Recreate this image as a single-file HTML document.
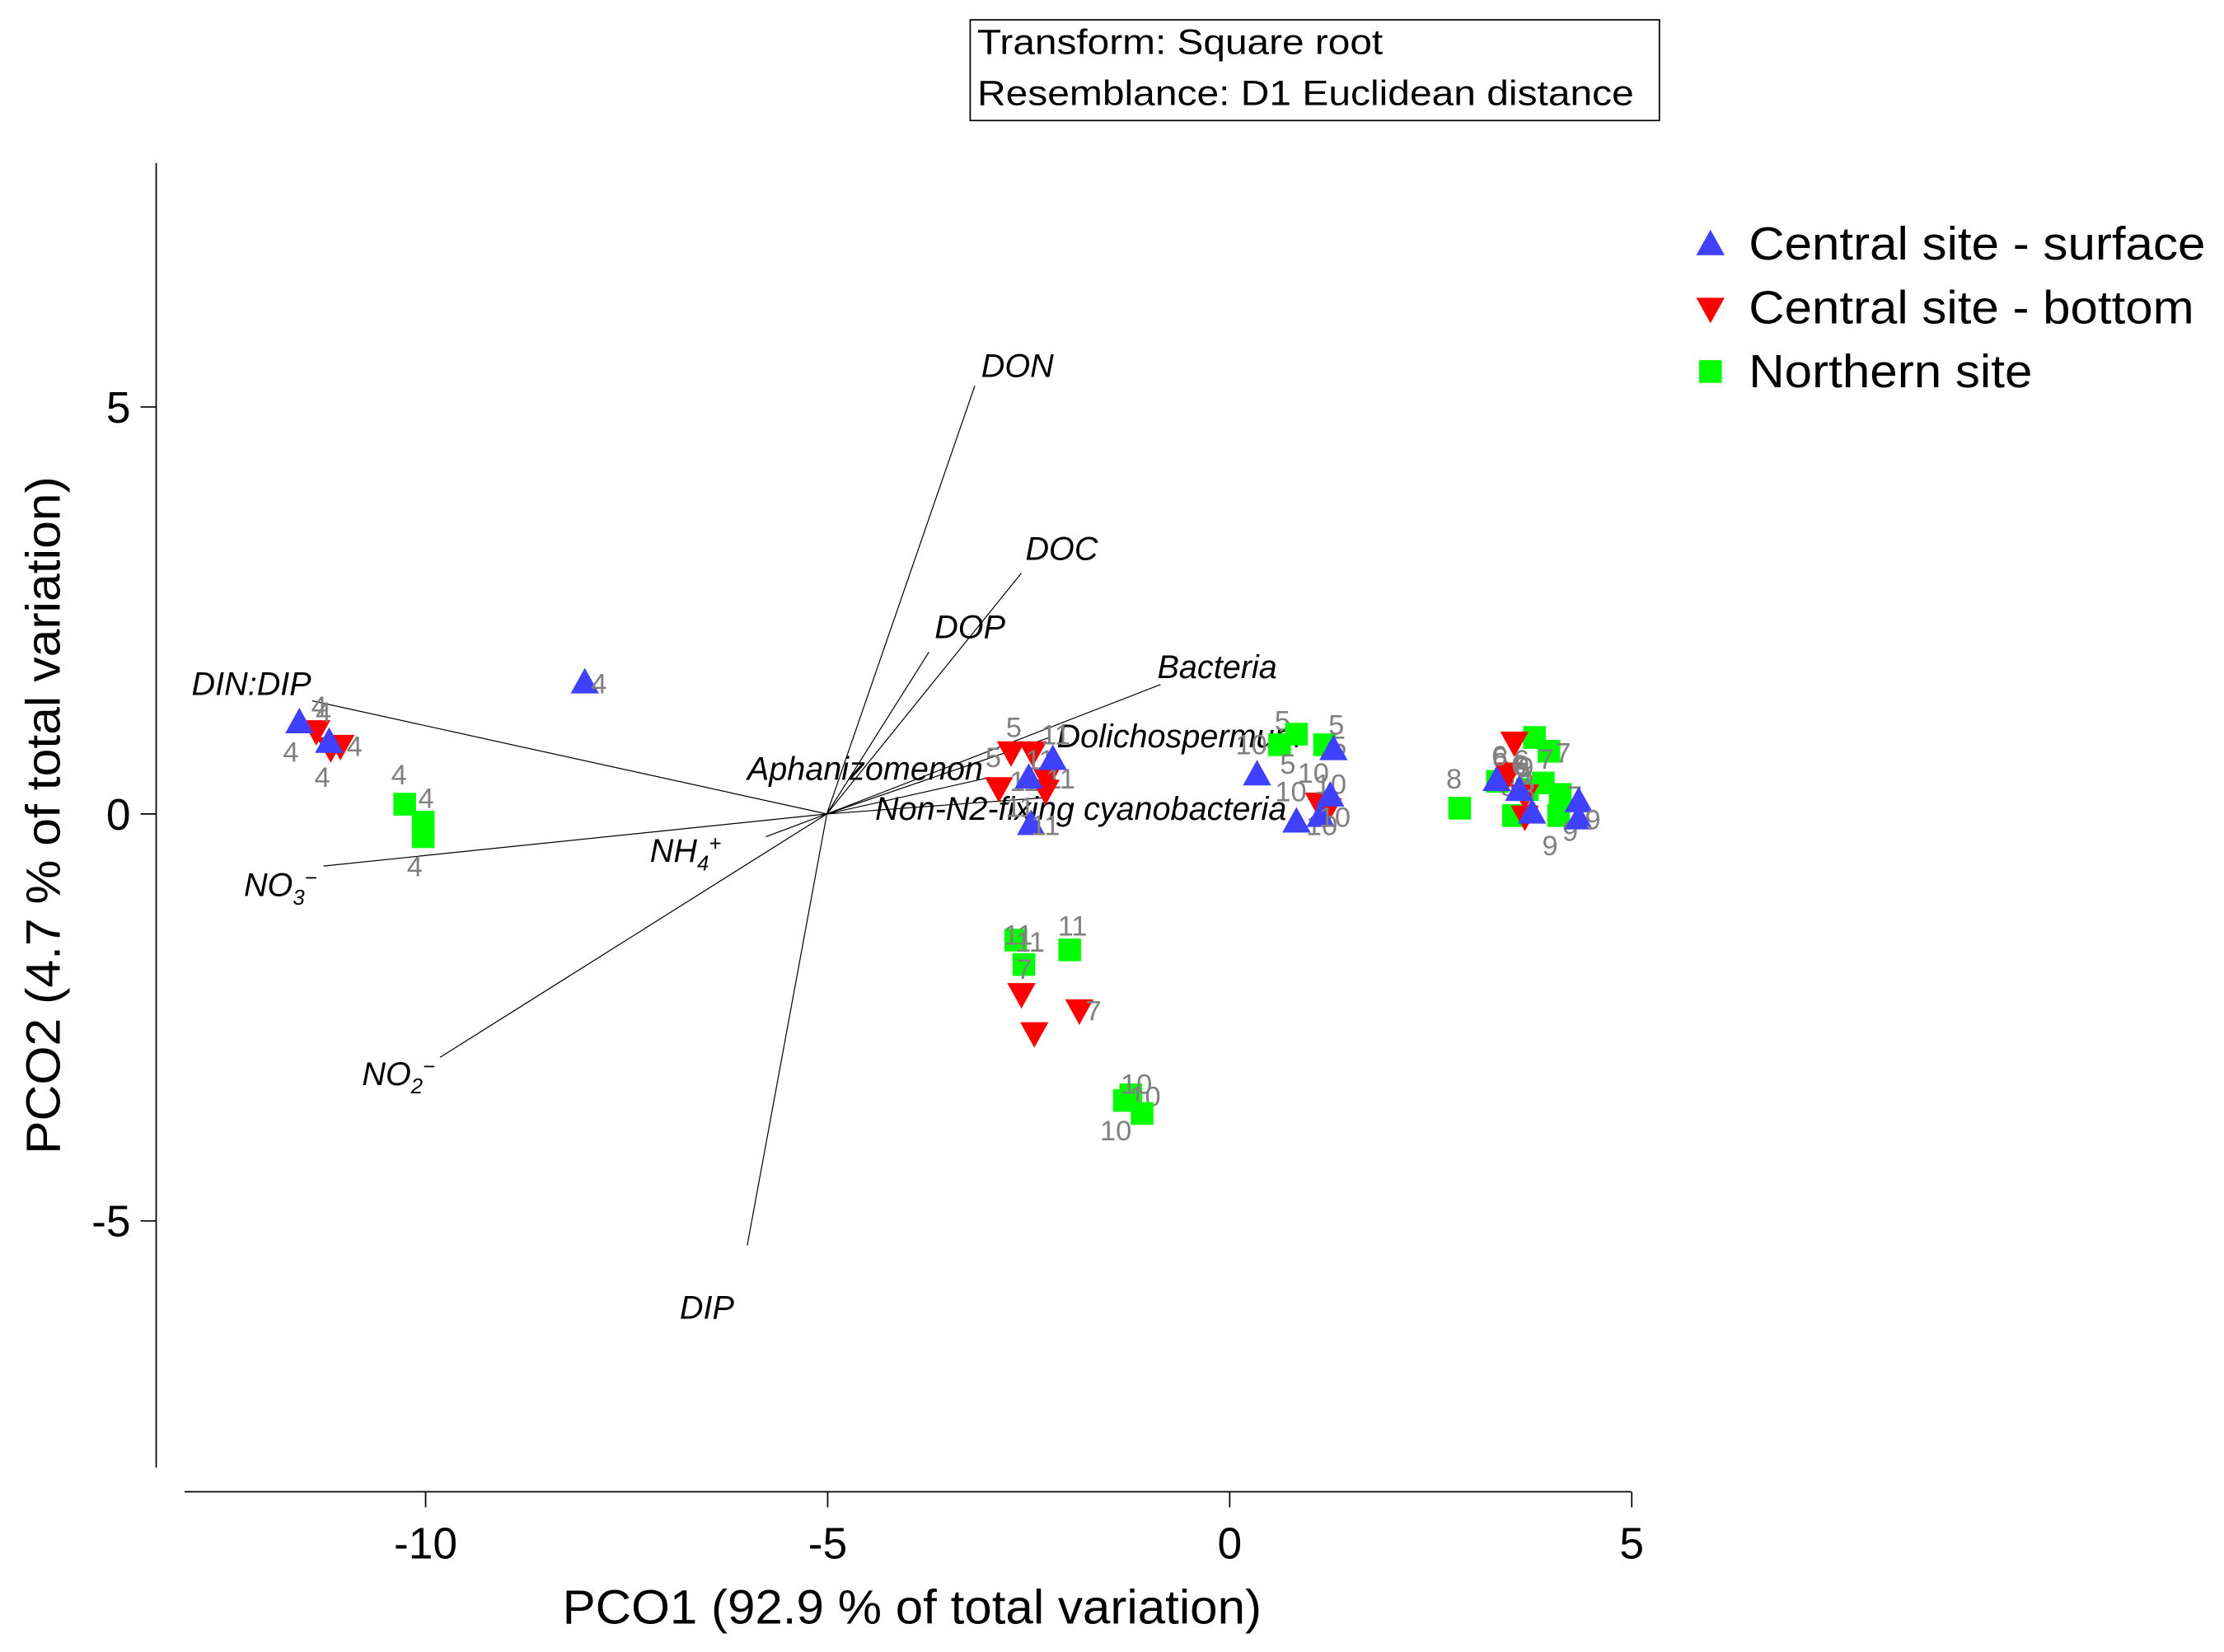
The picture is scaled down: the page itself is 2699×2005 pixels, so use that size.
<!DOCTYPE html>
<html><head><meta charset="utf-8"><style>
html,body{margin:0;padding:0;background:#fff;}
svg{display:block;font-family:"Liberation Sans",Arial,sans-serif;}
</style></head><body>
<svg id="chart" width="2699" height="2005" viewBox="0 0 1568 1165" xmlns="http://www.w3.org/2000/svg">
<rect width="1568" height="1165" fill="#fff"/>
<g>
<rect x="684" y="14" width="486" height="71" fill="#fff" stroke="#000" stroke-width="1"/>
<text x="689" y="38" font-size="25" textLength="286" lengthAdjust="spacingAndGlyphs">Transform: Square root</text>
<text x="689" y="74" font-size="25" textLength="463" lengthAdjust="spacingAndGlyphs">Resemblance: D1 Euclidean distance</text>
</g>
<g id="axes"></g>
<g id="vectors"></g>
<g id="points"></g>
<g>
<g><polygon points="1206,162 1196,180 1216,180" fill="#4040ff"/><text x="1233" y="183" font-size="33" textLength="322" lengthAdjust="spacingAndGlyphs">Central site - surface</text></g>
<g><polygon points="1196,210 1216,210 1206,228" fill="#ff0000"/><text x="1233" y="228" font-size="33" textLength="314" lengthAdjust="spacingAndGlyphs">Central site - bottom</text></g>
<g><rect x="1198" y="254" width="16" height="16" fill="#00ff00"/><text x="1233" y="273" font-size="33" textLength="200" lengthAdjust="spacingAndGlyphs">Northern site</text></g>
</g>
<text x="643" y="1145" font-size="34" text-anchor="middle" textLength="493" lengthAdjust="spacingAndGlyphs">PCO1 (92.9 % of total variation)</text>
<text transform="translate(42,575) rotate(-90)" font-size="34" text-anchor="middle" textLength="478" lengthAdjust="spacingAndGlyphs">PCO2 (4.7 % of total variation)</text>
</svg>
<script>
const xTicks=[-10,-5,0,5];
const yTicks=[5,0,-5];
const surfX=[-11.57,-8.02,-11.2,-2.2,-2.5,-2.47,0.34,1.29,1.25,1.13,0.83,3.32,4.34,4.34,3.76,3.6];
const surfY=[1.13,1.62,0.89,0.68,0.45,-0.12,0.49,0.8,0.23,-0.02,-0.09,0.42,0.16,-0.05,0.02,0.3];
const surfLab=["4","4","4","11","11","11","10","5","10","10","10","6","9","9","8","6"];
const botX=[-11.36,-11.18,-11.06,-2.87,-2.72,-2.45,-2.28,-2.29,-2.59,-2.43,-1.87,1.11,1.22,3.54,3.47,3.67,3.67];
const botY=[1.03,0.82,0.85,0.33,0.77,0.77,0.45,0.3,-2.2,-2.68,-2.4,0.14,0.07,0.89,0.51,0.24,-0.02];
const botLab=["4","4","4","5","5","11","11","11","7","","7","10","10","9","9","6","8"];
const norX=[-10.26,-10.03,-10.03,-2.66,-2.56,-1.99,-1.31,-1.23,-1.09,0.62,0.83,1.18,2.86,3.33,3.79,3.97,3.53,3.9,4.09,4.11,3.7];
const norY=[0.12,-0.1,-0.28,-1.55,-1.85,-1.67,-3.52,-3.45,-3.68,0.85,0.98,0.85,0.07,0.4,0.94,0.77,-0.02,0.38,-0.02,0.24,0.3];
const norLab=["4","4","4","11","11","11","10","10","10","5","5","5","8","8","9","7","8","7","9","7","6"];
const vecNames=["DON","DOC","DOP","Bacteria","Dolichospermum","Aphanizomenon","Non-N2-fixing cyanobacteria","NH4","DIN:DIP","NO3","NO2","DIP"];
const vecX=[-3.17,-2.59,-3.74,-0.86,-2.24,-2.98,-2.3,-5.77,-11.41,-11.27,-9.82,-6.0];
const vecY=[5.26,2.96,1.99,1.59,0.94,0.45,0.2,-0.28,1.39,-0.64,-2.99,-5.3];
const vecLabX=[-3.09,-2.54,-3.67,-0.9,-2.15,-6.0,-4.41,-7.21,-12.91,-12.26,-10.79,-6.84];
const vecLabY=[5.37,3.12,2.16,1.67,0.82,0.42,-0.07,-0.59,1.46,-1.01,-3.33,-6.2];

const NS="http://www.w3.org/2000/svg";
const X=v=>867+56.7*v, Y=v=>574-57.4*v;
function mk(tag,attrs,parent){const e=document.createElementNS(NS,tag);for(const k in attrs)e.setAttribute(k,attrs[k]);parent.appendChild(e);return e;}
const axes=document.getElementById('axes');
let l=mk('line',{x1:130,y1:1052,x2:1150,y2:1052,stroke:'#000','stroke-width':1},axes);


l=mk('line',{x1:110,y1:115,x2:110,y2:1035,stroke:'#000','stroke-width':1},axes);


xTicks.forEach(t=>{
 const g=mk('g',{},axes);
 
 
 mk('line',{x1:X(t),y1:1052,x2:X(t),y2:1063,stroke:'#000'},g);
 const tx=mk('text',{x:X(t),y:1099,'font-size':31,'text-anchor':'middle'},g);tx.textContent=t;
});
yTicks.forEach(t=>{
 const g=mk('g',{},axes);
 
 
 mk('line',{x1:99,y1:Y(t),x2:110,y2:Y(t),stroke:'#000'},g);
 const tx=mk('text',{x:92,y:Y(t)+11,'font-size':31,'text-anchor':'end'},g);tx.textContent=t;
});
const vg=document.getElementById('vectors');
vecNames.forEach((n,i)=>{
 const g=mk('g',{},vg);
 
 
 mk('line',{x1:X(-5.01),y1:Y(0),x2:X(vecX[i]),y2:Y(vecY[i]),stroke:'#000','stroke-width':0.7},g);
 const t=mk('text',{x:X(vecLabX[i]),y:Y(vecLabY[i]),'font-size':23,'font-style':'italic'},g);
 if(n==="NH4"){t.innerHTML='NH<tspan font-size="15" dy="6">4</tspan><tspan font-size="15" dy="-14">+</tspan>';}
 else if(n==="NO3"){t.innerHTML='NO<tspan font-size="15" dy="6">3</tspan><tspan font-size="15" dy="-14">−</tspan>';}
 else if(n==="NO2"){t.innerHTML='NO<tspan font-size="15" dy="6">2</tspan><tspan font-size="15" dy="-14">−</tspan>';}
 else t.textContent=n;
});
const pg=document.getElementById('points');
function lab(g,x,y,s,i){if(!s)return;const o=[[-4,-14],[2,-10],[-6,28],[10,8]][i%4];const t=mk('text',{x:X(x)+o[0],y:Y(y)+o[1],'font-size':20,fill:'#808080','text-anchor':'middle'},g);t.textContent=s;}
norX.forEach((v,i)=>{const g=mk('g',{},pg);
 
 
 mk('rect',{x:X(v)-8,y:Y(norY[i])-8,width:16,height:16,fill:'#00ff00'},g);lab(g,v,norY[i],norLab[i],i);});
botX.forEach((v,i)=>{const g=mk('g',{},pg);
 
 
 const cx=X(v),cy=Y(botY[i]);
 mk('polygon',{points:`${cx-10},${cy-7} ${cx+10},${cy-7} ${cx},${cy+11}`,fill:'#ff0000'},g);lab(g,v,botY[i],botLab[i],i+1);});
surfX.forEach((v,i)=>{const g=mk('g',{},pg);
 
 
 const cx=X(v),cy=Y(surfY[i]);
 mk('polygon',{points:`${cx},${cy-10} ${cx-10},${cy+8} ${cx+10},${cy+8}`,fill:'#4040ff'},g);lab(g,v,surfY[i],surfLab[i],i+2);});
</script>
</body></html>
